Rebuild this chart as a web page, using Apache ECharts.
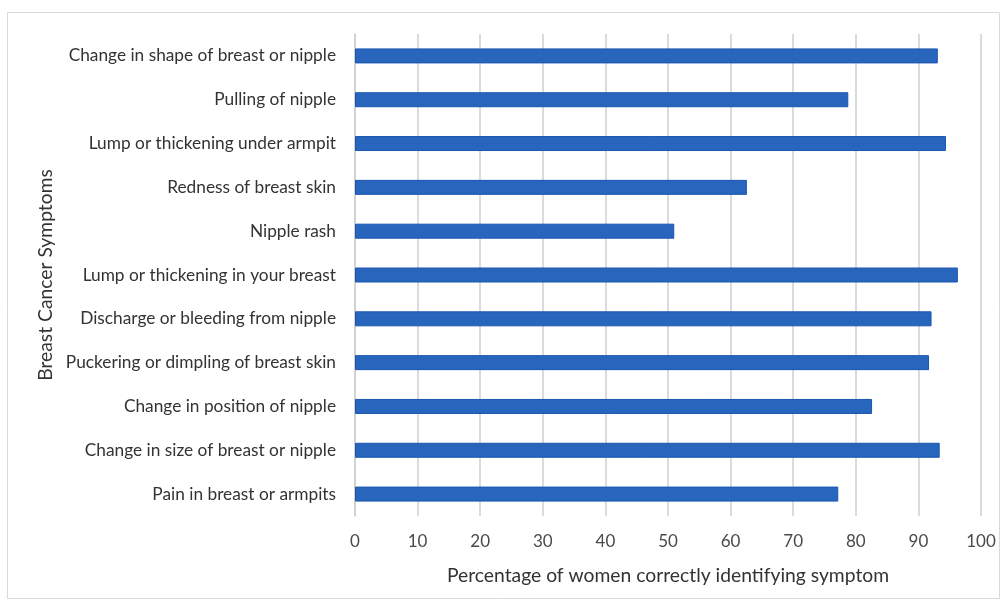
<!DOCTYPE html>
<html>
<head>
<meta charset="utf-8">
<script src="https://cdn.jsdelivr.net/npm/echarts@6/dist/echarts.min.js"></script>
<style>
html,body{margin:0;padding:0;background:#fff;}
#c{width:1004px;height:602px;}
</style>
</head>
<body>
<div id="c"></div>
<script>
const categories = [
  "Change in shape of breast or nipple",
  "Pulling of nipple",
  "Lump or thickening under armpit",
  "Redness of breast skin",
  "Nipple rash",
  "Lump or thickening in your breast",
  "Discharge or bleeding from nipple",
  "Puckering or dimpling of breast skin",
  "Change in position of nipple",
  "Change in size of breast or nipple",
  "Pain in breast or armpits"
];
const values = [93.1, 78.8, 94.4, 62.6, 51.0, 96.3, 92.1, 91.7, 82.6, 93.4, 77.2];
const xTicks = [0, 10, 20, 30, 40, 50, 60, 70, 80, 90, 100];

const chart = echarts.init(document.getElementById('c'), null, {renderer: 'canvas'});
const font = 'Lato, "Open Sans", sans-serif';
chart.setOption({
  animation: false,
  backgroundColor: '#ffffff',
  graphic: [{
    type: 'rect', shape: {x: 7.5, y: 12.5, width: 992, height: 586},
    style: {fill: 'none', stroke: '#d9d9d9', lineWidth: 1}, silent: true, z: -1
  }],
  grid: {left: 355, right: 23, top: 34, bottom: 86, containLabel: false},
  xAxis: {
    type: 'value', min: xTicks[0], max: xTicks[xTicks.length - 1], interval: 10,
    name: 'Percentage of women correctly identifying symptom',
    nameLocation: 'middle', nameGap: 50,
    nameTextStyle: {fontFamily: font, fontSize: 19.3, color: '#333333'},
    axisLine: {show: false}, axisTick: {show: false},
    axisLabel: {fontFamily: font, fontSize: 17, color: '#4a4a4a', margin: 17},
    splitLine: {show: true, lineStyle: {color: '#cfcfcf', width: 1.5}}
  },
  yAxis: {
    type: 'category', data: categories, inverse: true,
    name: 'Breast Cancer Symptoms', nameLocation: 'middle', nameGap: 300, nameRotate: 90,
    nameTextStyle: {fontFamily: font, fontSize: 19.3, color: '#333333'},
    axisLine: {show: true, lineStyle: {color: '#cfcfcf', width: 1.5}},
    axisTick: {show: false},
    axisLabel: {fontFamily: font, fontSize: 17.3, color: '#333333', margin: 19}
  },
  series: [{
    type: 'bar', data: values, barWidth: 15,
    itemStyle: {color: '#2866be', borderColor: '#1a56b0', borderWidth: 1}
  }]
});
</script>
</body>
</html>
